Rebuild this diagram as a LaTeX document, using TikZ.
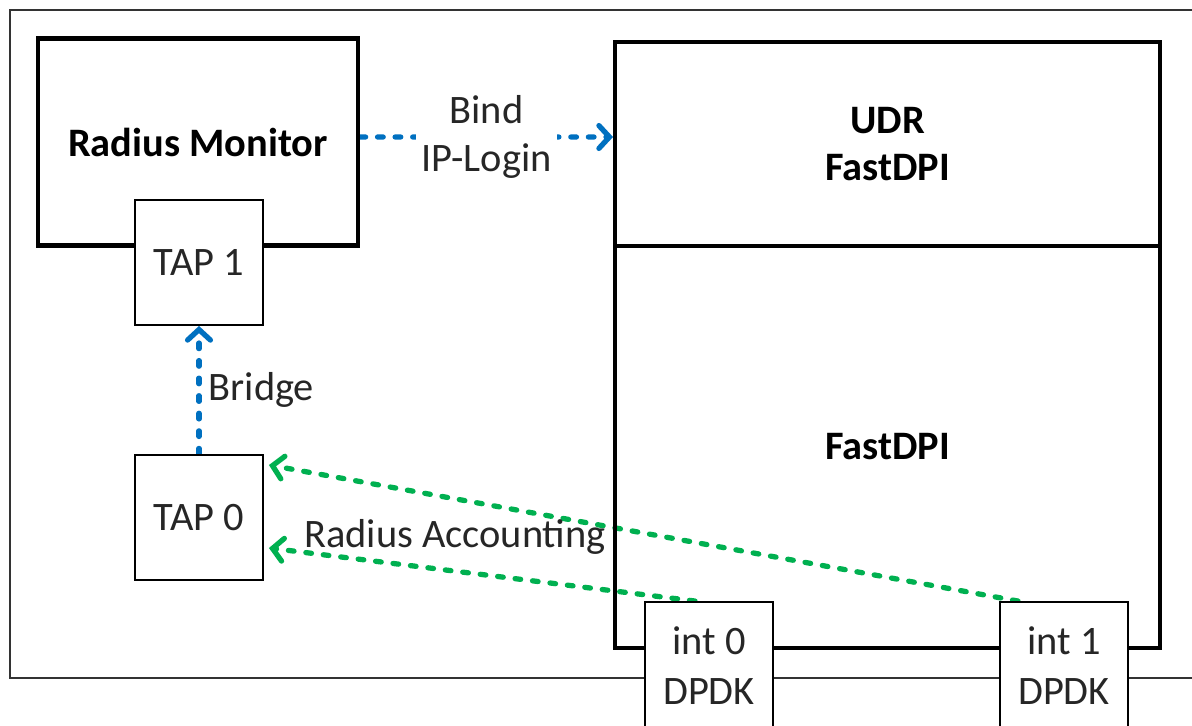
\documentclass[tikz,border=0pt]{standalone}
\usepackage{fontspec}
\setmainfont{Carlito}
\usetikzlibrary{arrows.meta}
\pgfdeclarelayer{edgelayer}
\pgfdeclarelayer{nodelayer}
\pgfsetlayers{edgelayer,nodelayer,main}
\definecolor{linkblue}{RGB}{0,112,192}
\definecolor{linkgreen}{RGB}{0,176,80}
\tikzstyle{none}=[inner sep=0pt,text=black!85,font=\fontsize{23}{27}\selectfont]
\tikzstyle{host}=[draw=black,line width=2.3pt,align=center,text=black,font=\fontsize{23}{27}\selectfont\bfseries]
\tikzstyle{port}=[draw=black,fill=white,line width=1.1pt,align=center,minimum width=2.56cm,text=black!85,font=\fontsize{23}{28.5}\selectfont]
\tikzstyle{frame}=[draw=black!80,line width=1.1pt]
\tikzstyle{flow}=[line width=3pt,dash pattern=on 3.2pt off 6.8pt,line cap=round,-{Straight Barb[length=6pt,width=13pt,line cap=round]}]
\tikzstyle{bind}=[style=flow,draw=linkblue]
\tikzstyle{acct}=[style=flow,draw=linkgreen]

\begin{document}
\begin{tikzpicture}[x=0.02cm,y=-0.02cm]
	\useasboundingbox (0,0) rectangle (1192,726);
	\begin{pgfonlayer}{nodelayer}
		\node [style=host,minimum width=6.4cm,minimum height=4.14cm] (0) at (198,142) {Radius Monitor};
		\node [style=port,minimum height=2.5cm] (1) at (199,262.5) {TAP 1};
		\node [style=port,minimum height=2.5cm] (2) at (199,517.5) {TAP 0};
		\node [style=host,minimum width=10.9cm,minimum height=4.08cm] (3) at (887.5,144) {UDR\\FastDPI};
		\node [style=host,minimum width=10.9cm,minimum height=8.04cm] (4) at (887.5,447) {FastDPI};
		\node [style=port,minimum height=2.56cm] (5) at (709,666) {int 0\\DPDK};
		\node [style=port,minimum height=2.56cm] (6) at (1064,666) {int 1\\DPDK};
		\node [style=none] (7) at (455,537) {Radius Accounting};
	\end{pgfonlayer}
	\begin{pgfonlayer}{edgelayer}
		\draw [style=frame] (1240,678) -| (10,10) -- (1240,10);
		\draw [style=bind] ([yshift=0.1cm]0.east) to
		node[style=none,fill=white,inner sep=3pt,align=center]{Bind\\IP-Login} ([yshift=0.14cm]3.west);
		\draw [style=bind] (2) to node[style=none,right,inner sep=4pt]{Bridge} (1);
		\draw [style=acct] ([xshift=-0.92cm]6.north) to ([xshift=0.1cm,yshift=1.05cm]2.east);
		\draw [style=acct] ([xshift=-0.28cm]5.north) to ([xshift=0.1cm,yshift=-0.61cm]2.east);
	\end{pgfonlayer}
\end{tikzpicture}
\end{document}
